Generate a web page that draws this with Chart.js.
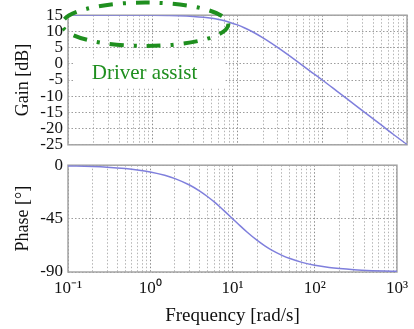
<!DOCTYPE html>
<html><head><meta charset="utf-8">
<script src="https://cdn.jsdelivr.net/npm/chart.js@4.4.1/dist/chart.umd.min.js"></script>
<style>
html,body{margin:0;padding:0;background:#fff;}
#wrap{position:relative;width:414px;height:329px;overflow:hidden;background:#fff;}
canvas{position:absolute;left:0;}
</style></head><body>
<div id="wrap">
<canvas id="gain" width="414" height="160" style="top:0px"></canvas>
<canvas id="phase" width="414" height="179" style="top:150px"></canvas>
</div>
<script>
// ---- data ----
const frequencies = [0.1,0.2,0.3,0.5,0.7,1,1.5,2,3,4,5,6,7,8,10,12,15,20,25,30,40,50,70,100,150,200,300,500,700,1000];
const gainDb = [15.0,15.0,15.0,14.99,14.98,14.96,14.9,14.83,14.62,14.35,14.03,13.66,13.26,12.85,12.0,11.13,9.89,8.01,6.4,5.0,2.7,0.85,-2.03,-5.0,-8.5,-11.0,-14.5,-18.95,-21.9,-24.9];
const phaseDeg = [-0.57,-1.15,-1.72,-2.86,-4.0,-5.71,-8.53,-11.31,-16.7,-21.8,-26.57,-30.96,-34.99,-38.66,-45.0,-50.19,-56.31,-63.43,-68.2,-71.57,-75.96,-78.69,-81.87,-84.29,-86.19,-87.14,-88.09,-88.85,-89.18,-89.43];
const decades = [0.1,1,10,100,1000];
const decadeLabels = ['10\u207B\u00B9','10\u2070','10\u00B9','10\u00B2','10\u00B3'];
const gainTicks = [15,10,5,0,-5,-10,-15,-20,-25];
const phaseTicks = [0,-45,-90];
const annotationText = 'Driver assist';

const FONT = "'Liberation Serif','Times New Roman',serif";
const GREEN = '#1f8f1f';
const LINE = '#7f7fdc';

function logTicks(){
  const t=[];
  for(let i=0;i<decades.length;i++){
    const d=decades[i];
    if(i===decades.length-1){t.push({value:d});break;}
    for(let m=1;m<=9;m++) t.push({value:m*d});
  }
  return t;
}
function isDecade(v){return decades.some(d=>Math.abs(v/d-1)<1e-6);}

const framePlugin = {
  id:'frame',
  beforeDatasetsDraw(chart){
    const {ctx,chartArea:a}=chart;
    ctx.save();
    ctx.strokeStyle='#a4a4a4';ctx.lineWidth=1.5;
    ctx.strokeRect(a.left,a.top,a.right-a.left,a.bottom-a.top);
    ctx.restore();
  }
};

const assistPlugin = {
  id:'assist',
  afterDatasetsDraw(chart){
    const {ctx}=chart;
    const xs=chart.scales.x, ys=chart.scales.y;
    // label with white box
    ctx.save();
    ctx.font='21px '+FONT;
    const tx=xs.getPixelForValue(0.8), ty=ys.getPixelForValue(-3.0);
    const w=ctx.measureText(annotationText).width;
    ctx.fillStyle='#fff';
    ctx.fillRect(tx-w/2-17,ty-15,w+17+28,29);
    ctx.fillStyle=GREEN;ctx.textAlign='center';ctx.textBaseline='middle';
    ctx.fillText(annotationText,tx,ty);
    // dash-dot ellipse
    const x1=xs.getPixelForValue(0.085), x2=xs.getPixelForValue(7.8);
    const y1=ys.getPixelForValue(18.9), y2=ys.getPixelForValue(5.5);
    ctx.beginPath();
    ctx.ellipse((x1+x2)/2,(y1+y2)/2,(x2-x1)/2,(y2-y1)/2,0,0,Math.PI*2);
    ctx.strokeStyle=GREEN;ctx.lineWidth=4;ctx.setLineDash([14,10,3,10]);
    ctx.stroke();
    ctx.restore();
  }
};

function xScale(showLabels){
  return {
    type:'logarithmic',min:0.1,max:1000,
    afterBuildTicks(s){s.ticks=logTicks();},
    grid:{color:c=>isDecade(c.tick.value)?'#8c8c8c':'#b4b4b4',lineWidth:1,drawTicks:false},
    border:{display:false,dash:[1.5,2]},
    ticks:{display:showLabels,autoSkip:false,maxRotation:0,padding:6,color:'#111',
      font:{family:FONT,size:17},
      callback(v){const i=decades.findIndex(d=>Math.abs(v/d-1)<1e-6);return i>=0?decadeLabels[i]:'';}},
    title:showLabels?{display:true,text:'Frequency [rad/s]',color:'#111',font:{family:FONT,size:19},padding:{top:0,bottom:2}}:{display:false},
    afterFit(s){s.height=showLabels?57:0;}
  };
}
function yScale(min,max,ticks,title){
  return {
    min,max,
    afterBuildTicks(s){s.ticks=ticks.map(v=>({value:v}));},
    grid:{color:'#9c9c9c',lineWidth:1,drawTicks:false},
    border:{display:false,dash:[1.5,2]},
    ticks:{padding:5,color:'#111',font:{family:FONT,size:17},autoSkip:false},
    title:{display:true,text:title,color:'#111',font:{family:FONT,size:18},padding:{top:12,bottom:0}},
    afterFit(s){s.width=68;}
  };
}
function lineDataset(values){
  return {data:frequencies.map((f,i)=>({x:f,y:values[i]})),borderColor:LINE,borderWidth:1.5,
    pointRadius:0,fill:false,cubicInterpolationMode:'monotone'};
}
const common={responsive:false,animation:false,devicePixelRatio:1,
  plugins:{legend:{display:false},tooltip:{enabled:false}}};

new Chart(document.getElementById('gain'),{
  type:'line',
  data:{datasets:[lineDataset(gainDb)]},
  options:Object.assign({},common,{
    layout:{padding:{top:14,right:7,bottom:15,left:0}},
    scales:{x:xScale(false),y:yScale(-25,15,gainTicks,'Gain [dB]')}
  }),
  plugins:[framePlugin,assistPlugin]
});
new Chart(document.getElementById('phase'),{
  type:'line',
  data:{datasets:[lineDataset(phaseDeg)]},
  options:Object.assign({},common,{
    layout:{padding:{top:7,right:7,bottom:0,left:0}},
    scales:{x:xScale(true),y:yScale(-90,0,phaseTicks,'Phase [\u00B0]')}
  }),
  plugins:[framePlugin]
});
</script>
</body></html>
